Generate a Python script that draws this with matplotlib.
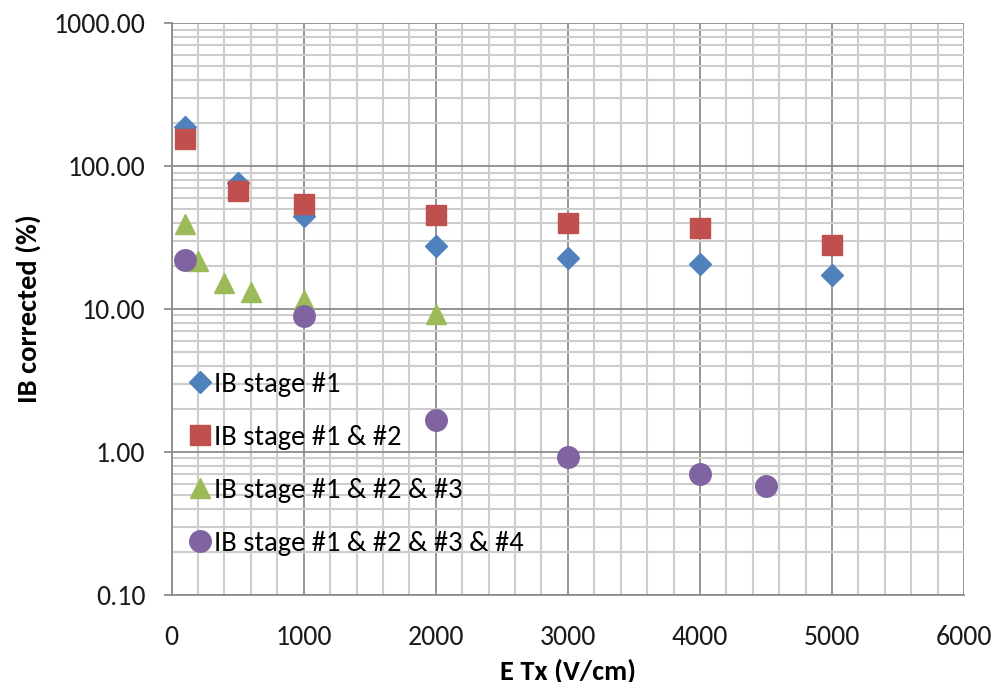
import matplotlib
matplotlib.use("Agg")
import matplotlib.pyplot as plt
from matplotlib.ticker import FixedLocator, FuncFormatter, LogLocator, NullFormatter

plt.rcParams['font.family'] = ['Carlito', 'Lato', 'DejaVu Sans']

# Ion backflow data
x_s1 = [100, 500, 1000, 2000, 3000, 4000, 5000]
y_s1 = [187, 76, 45, 27.6, 22.7, 20.6, 17.3]

x_s2 = [100, 500, 1000, 2000, 3000, 4000, 5000]
y_s2 = [154, 67, 54, 45.5, 40, 36.8, 28]

x_s3 = [100, 200, 400, 600, 1000, 2000]
y_s3 = [39.3, 21.7, 15.2, 13.2, 11.6, 9.2]

x_s4 = [100, 1000, 2000, 3000, 4000, 4500]
y_s4 = [22, 8.9, 1.67, 0.92, 0.70, 0.58]

labels = ["IB stage #1", "IB stage #1 & #2", "IB stage #1 & #2 & #3",
          "IB stage #1 & #2 & #3 & #4"]
x_ticks = [0, 1000, 2000, 3000, 4000, 5000, 6000]
y_ticks = [0.1, 1, 10, 100, 1000]

fig = plt.figure(figsize=(9.98, 6.82), dpi=100)
ax = fig.add_axes([0.172, 0.128, 0.794, 0.838])

ax.set_yscale('log')
ax.set_xlim(0, 6000)
ax.set_ylim(0.1, 1000)

ax.plot(x_s1, y_s1, 'D', color='#4F81BD', markersize=11.5, label=labels[0], zorder=3)
ax.plot(x_s2, y_s2, 's', color='#C0504D', markersize=15, label=labels[1], zorder=3)
ax.plot(x_s3, y_s3, '^', color='#9BBB59', markersize=15, label=labels[2], zorder=3)
ax.plot(x_s4, y_s4, 'o', color='#8064A2', markersize=15.5, label=labels[3], zorder=3)

ax.xaxis.set_major_locator(FixedLocator(x_ticks))
ax.xaxis.set_minor_locator(FixedLocator([v for v in range(0, 6001, 200) if v % 1000]))
ax.yaxis.set_major_locator(FixedLocator(y_ticks))
ax.yaxis.set_minor_locator(LogLocator(base=10, subs=range(2, 10)))
ax.yaxis.set_major_formatter(FuncFormatter(lambda v, p: f"{v:.2f}"))
ax.yaxis.set_minor_formatter(NullFormatter())

ax.grid(which='major', color='#8c8c8c', linewidth=1.3, zorder=0)
ax.grid(which='minor', color='#cdcdcd', linewidth=1.5, zorder=0)
ax.set_axisbelow(True)

for s in ['top', 'right']:
    ax.spines[s].set_visible(False)
for s in ['left', 'bottom']:
    ax.spines[s].set_color('#8c8c8c')
    ax.spines[s].set_linewidth(1.3)

ax.tick_params(which='both', length=0, labelsize=20, colors='#1a1a1a')
ax.tick_params(axis='x', which='major', pad=21.6)
ax.tick_params(axis='y', which='major', length=6, width=1.3, color='#8c8c8c',
               direction='out', pad=13)

ax.set_xlabel("E Tx (V/cm)", fontsize=20.5, fontweight='bold')
ax.set_ylabel("IB corrected (%)", fontsize=20.5, fontweight='bold')
ax.xaxis.set_label_coords(0.5, -0.111)
ax.yaxis.set_label_coords(-0.1654, 0.5)

leg = ax.legend(loc='upper left', bbox_to_anchor=(0.0, 0.4196), frameon=False,
                fontsize=20.5, labelspacing=0.98, handletextpad=0.12,
                handlelength=0.77, borderaxespad=0.2)

fig.savefig("out.png", dpi=100)
